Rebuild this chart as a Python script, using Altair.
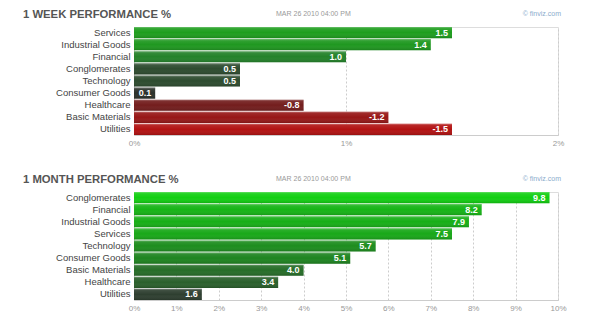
import altair as alt
import pandas as pd

# ---- data ----
week_categories = ["Services", "Industrial Goods", "Financial", "Conglomerates", "Technology",
                   "Consumer Goods", "Healthcare", "Basic Materials", "Utilities"]
week_values = [1.5, 1.4, 1.0, 0.5, 0.5, 0.1, -0.8, -1.2, -1.5]
week_ticks = [0, 1, 2]

month_categories = ["Conglomerates", "Financial", "Industrial Goods", "Services", "Technology",
                    "Consumer Goods", "Basic Materials", "Healthcare", "Utilities"]
month_values = [9.8, 8.2, 7.9, 7.5, 5.7, 5.1, 4.0, 3.4, 1.6]
month_ticks = [0, 1, 2, 3, 4, 5, 6, 7, 8, 9, 10]

stamp = "MAR 26 2010 04:00 PM"
site = "\u00a9 finviz.com"

FONT = "Liberation Sans"


def panel(title, cats, vals, ticks, cdomain, crange):
    df = pd.DataFrame({
        "cat": cats,
        "val": vals,
        "absval": [abs(v) for v in vals],
        "label": [f"{v:.1f}" for v in vals],
    })
    base = alt.Chart(df)
    x = alt.X("absval:Q",
              scale=alt.Scale(domain=[ticks[0], ticks[-1]], nice=False),
              axis=alt.Axis(values=ticks, labelExpr="datum.value + '%'", title=None,
                            labelFontSize=8, labelColor="#999", ticks=False,
                            domainColor="#ccc", gridColor="#ccc", gridDash=[2, 2],
                            labelPadding=4, labelFont=FONT, labelFlush=False))
    y = alt.Y("cat:N", sort=cats,
              scale=alt.Scale(paddingInner=0.08, paddingOuter=0),
              axis=alt.Axis(title=None, ticks=False, domain=False, labelFontSize=9.5,
                            labelColor="#444", labelPadding=4, minExtent=120,
                            labelFont=FONT))
    bars = base.mark_bar().encode(
        x=x, y=y,
        color=alt.Color("val:Q", scale=alt.Scale(domain=cdomain, range=crange,
                                                 interpolate="rgb"), legend=None),
    )
    shade = base.mark_bar(color=alt.Gradient(
        gradient="linear", x1=0, x2=0, y1=0, y2=1,
        stops=[alt.GradientStop(color="rgba(255,255,255,0.35)", offset=0),
               alt.GradientStop(color="rgba(255,255,255,0.08)", offset=0.15),
               alt.GradientStop(color="rgba(255,255,255,0)", offset=0.5),
               alt.GradientStop(color="rgba(0,0,0,0.15)", offset=1)])).encode(
        x="absval:Q", y=alt.Y("cat:N", sort=cats))
    labels = base.mark_text(align="right", dx=-4, color="white", fontWeight="bold",
                            fontSize=9, font=FONT).encode(
        x="absval:Q", y=alt.Y("cat:N", sort=cats), text="label:N")
    hdr = pd.DataFrame({"title": [title], "stamp": [stamp], "site": [site]})
    hbase = alt.Chart(hdr)
    title_t = hbase.mark_text(align="left", baseline="alphabetic", fontSize=11.3,
                              fontWeight="bold", color="#555", font=FONT).encode(
        text="title:N", x=alt.value(-111), y=alt.value(-9))
    stamp_t = hbase.mark_text(align="left", baseline="middle", fontSize=7, color="#999",
                              font=FONT).encode(
        text="stamp:N", x=alt.value(142), y=alt.value(-13))
    site_t = hbase.mark_text(align="right", baseline="middle", fontSize=7,
                             color="#8aaccc", font=FONT).encode(
        text="site:N", x=alt.value(427), y=alt.value(-13))
    return alt.layer(bars, shade, labels, title_t, stamp_t, site_t).properties(
        width=424, height=108)


top = panel("1 WEEK PERFORMANCE %", week_categories, week_values, week_ticks,
            [-1.5, 0, 0.5, 1.0, 1.5],
            ["#b21212", "#2a2a2a", "#2d4b2f", "#23822a", "#1e9e1e"])
bottom = panel("1 MONTH PERFORMANCE %", month_categories, month_values, month_ticks,
               [1.6, 3.4, 5.1, 7.5, 9.8],
               ["#2e3f30", "#2a602c", "#1e8420", "#18a818", "#12cf12"])

chart = alt.vconcat(top, bottom, spacing=25).resolve_scale(
    color="independent"
).properties(
    padding={"left": 5, "right": 5, "top": 0, "bottom": 0}
).configure_view(
    stroke="#ccc", strokeDash=[2, 2]
).configure(background="white")

chart.save("out.html", embed_options={"renderer": "svg", "actions": False})
